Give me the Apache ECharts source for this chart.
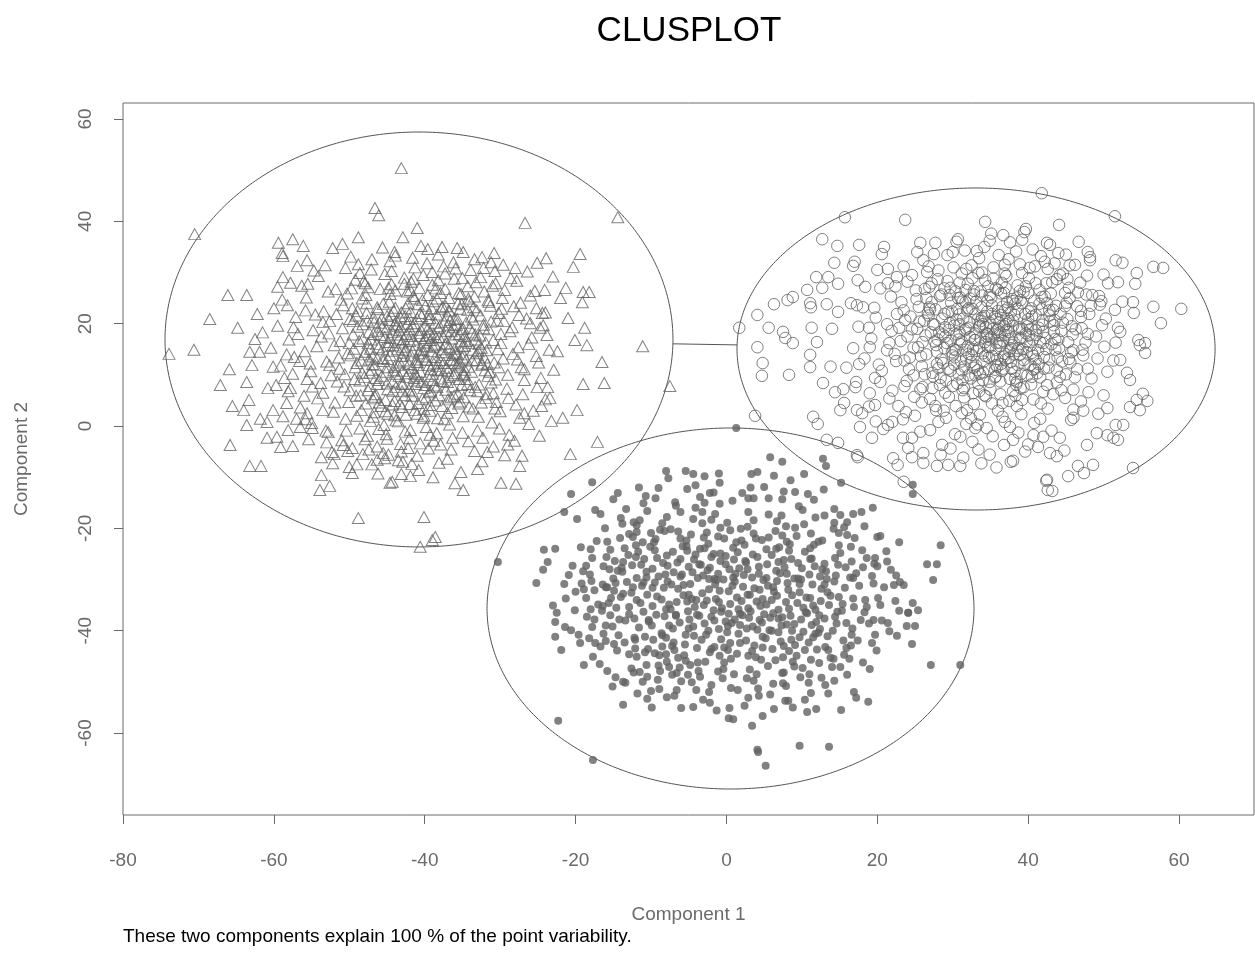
<!DOCTYPE html>
<html>
<head>
<meta charset="utf-8">
<title>CLUSPLOT</title>
<script src="https://cdn.jsdelivr.net/npm/echarts@6/dist/echarts.min.js"></script>
<style>
  html, body { margin: 0; padding: 0; background: #ffffff; }
  #chart { width: 1255px; height: 959px; }
</style>
</head>
<body>
<div id="chart"></div>
<script>
// Cluster 1 (open triangles)
const clusterTriangles = [
  [-43.1,50.4],[-70.5,37.5],[-14.4,40.8],[-26.7,39.7],[-73.9,14.1],[-70.6,14.9],[-65.8,-3.7],[-63.2,-7.8],[-61.7,-7.8],[-48.8,-18.0],
  [-40.6,-23.6],[-40.1,-17.8],[-39.0,-22.3],[-38.6,-21.7],[-11.1,15.6],[-7.5,7.8],[-17.1,-3.1],[-20.7,-5.5],[-27.4,-7.8],[-29.9,-11.1],
  [-27.9,-11.3],[-34.9,-12.5],[-16.2,8.4],[-19.0,8.2],[-18.5,15.8],[-20.1,16.8],[-16.5,12.5],[-23.7,7.6],[-23.4,5.5],[-21.7,1.6],
  [-19.8,3.1],[-29.4,-5.7],
  [-46.6,42.6],[-46.1,41.2],[-48.8,36.9],[-42.9,36.9],[-41.0,38.7],[-59.4,35.8],[-57.5,36.5],[-56.1,35.2],[-58.9,33.8],[-58.8,33.2],
  [-56.9,31.3],[-55.6,32.4],[-52.2,34.8],[-66.1,25.6],[-63.6,25.6],[-68.5,20.9],[-64.8,19.2],[-58.8,29.1],[-59.5,27.2],
  [-35.7,34.8],[-37.7,35.0],[-40.5,35.2],[-32.4,33.0],[-30.8,33.8],[-25.1,31.9],[-23.9,32.8],[-19.4,33.6],[-20.3,31.1],[-28.0,30.9],
  [-29.6,31.5],[-24.1,26.6],[-21.3,27.0],[-19.0,26.2],[-18.2,26.2],[-19.1,24.2],[-24.4,22.1],[-24.0,22.2],[-21.0,21.1],[-18.8,19.2],[-24.7,19.2],
  [-67.1,8.0],[-65.9,11.1],[-65.5,3.9],[-63.6,8.6],[-63.3,5.1],[-64.0,3.1],[-63.6,0.2],[-61.8,1.4],[-60.9,0.8],[-60.9,-2.3],
  [-59.6,-2.1],[-59.1,-4.1],[-57.5,-3.9],[-63.2,14.5],[-61.9,14.5],[-62.9,11.9],[-60.1,11.6],[-59.7,8.0],[-60.1,3.1],[-58.8,1.9],
  [-58.3,4.5],[-58.1,-0.8],[-56.5,-0.2],[-54.9,-0.4],[-55.6,2.5],[-53.5,3.1],[-53.7,-6.1],[-52.3,-5.1],[-52.2,-7.3],[-53.7,-9.6],
  [-52.6,-11.7],[-53.9,-12.5],[-49.6,-9.2],[-50.8,-3.7],[-48.2,-5.5],[-46.3,-6.6],[-45.3,-6.3],[-44.6,-11.1],[-44.3,-10.9],[-43.1,-9.4],
  [-41.7,-7.4],[-42.9,-7.0],
  [-53.2,31.4],[-49.8,33.1],[-47.1,30.6],[-44.6,32.2],[-41.3,31.0],[-38.2,33.5],[-35.9,30.8],[-33.4,32.6],[-30.7,30.3],[-44.0,34.0],
  [-50.5,30.9],[-39.7,31.8],
  [-56.3,27.4],[-54.1,29.3],[-51.8,26.8],[-49.2,28.6],[-47.5,27.1],[-45.3,29.7],[-43.9,26.5],[-41.8,28.2],[-40.2,29.5],[-38.5,26.9],
  [-36.1,28.8],[-34.3,27.3],[-32.6,29.1],[-29.4,26.6],[-27.8,28.4],[-48.6,29.9],[-42.7,27.8],[-37.3,29.8],
  [-58.2,23.6],[-55.7,25.1],[-53.4,22.4],[-51.1,24.7],[-49.6,23.0],[-47.8,25.6],[-46.2,22.8],[-44.7,24.3],[-43.1,22.2],[-41.5,25.4],
  [-39.9,23.5],[-38.4,24.9],[-36.8,22.6],[-35.2,25.8],[-33.5,23.2],[-31.6,24.6],[-29.8,22.9],[-27.3,24.1],[-25.2,23.0],[-50.3,25.9],
  [-45.5,23.9],[-42.2,24.0],[-37.6,23.3],[-34.1,24.4],[-40.6,22.1],[-48.9,22.5],
  [-59.5,19.6],[-57.1,21.3],[-54.8,18.7],[-52.6,20.5],[-50.9,19.1],[-49.1,21.6],[-47.4,18.4],[-46.0,20.2],[-44.5,21.8],[-43.2,19.3],
  [-42.0,20.9],[-40.7,18.2],[-39.3,21.1],[-38.0,19.5],[-36.6,20.7],[-35.1,18.9],[-33.8,21.4],[-32.2,19.8],[-30.4,20.6],[-28.7,18.5],
  [-26.5,21.0],[-24.3,19.7],[-51.7,21.9],[-48.2,19.9],[-45.1,18.9],[-41.4,20.1],[-37.2,18.6],[-34.5,20.2],[-44.0,19.9],[-39.6,19.0],
  [-42.6,21.5],[-46.8,21.2],
  [-60.4,15.3],[-58.0,16.9],[-55.9,14.6],[-53.7,17.5],[-52.0,15.8],[-50.2,14.2],[-48.7,16.6],[-47.2,15.1],[-45.9,17.8],[-44.3,14.7],
  [-43.0,16.3],[-41.9,17.6],[-40.5,15.0],[-39.2,16.8],[-37.8,14.4],[-36.4,17.1],[-35.0,15.6],[-33.3,16.9],[-31.8,14.8],[-29.9,16.2],
  [-27.6,15.4],[-25.8,17.3],[-23.5,14.9],[-49.5,17.9],[-46.4,16.0],[-42.8,14.3],[-40.0,17.2],[-38.6,15.8],[-35.7,14.1],[-32.7,17.7],
  [-44.8,16.4],[-41.2,15.9],[-37.1,16.2],[-43.6,17.9],[-47.9,14.5],
  [-59.1,11.8],[-57.3,13.5],[-55.1,10.7],[-53.0,12.6],[-51.3,11.2],[-49.8,13.8],[-48.3,10.4],[-46.9,12.1],[-45.5,13.3],[-44.1,10.9],
  [-42.8,12.8],[-41.6,11.4],[-40.3,13.6],[-39.0,10.2],[-37.5,12.3],[-36.2,13.9],[-34.7,11.0],[-33.1,12.9],[-31.4,10.6],[-29.6,13.2],
  [-27.2,11.5],[-24.9,12.4],[-50.6,10.1],[-47.4,13.0],[-43.5,11.9],[-41.0,12.5],[-38.3,11.7],[-35.4,12.6],[-32.4,11.9],[-45.0,11.5],
  [-42.2,10.3],[-39.7,12.9],[-36.9,10.8],[-44.6,13.9],
  [-57.8,7.4],[-55.6,9.2],[-53.5,6.5],[-51.6,8.7],[-49.9,7.0],[-48.0,9.6],[-46.5,6.2],[-45.0,8.3],[-43.4,9.8],[-42.1,7.1],
  [-40.8,8.9],[-39.4,6.6],[-37.9,9.3],[-36.3,7.7],[-34.8,9.9],[-33.0,6.8],[-31.2,8.5],[-29.1,7.3],[-26.8,9.0],[-52.4,9.9],
  [-47.3,7.8],[-44.2,6.9],[-41.4,9.4],[-38.7,7.9],[-35.6,6.3],[-42.9,8.2],[-39.9,8.0],[-46.1,9.0],
  [-56.5,3.6],[-54.2,5.4],[-52.1,2.8],[-50.1,4.7],[-48.4,3.1],[-46.6,5.7],[-44.9,2.4],[-43.3,4.4],[-41.7,5.9],[-40.1,3.3],
  [-38.6,5.0],[-37.0,2.6],[-35.3,4.8],[-33.6,3.4],[-31.9,5.5],[-30.0,2.9],[-27.9,4.2],[-25.6,3.0],[-49.1,5.9],[-45.8,3.9],
  [-42.5,2.2],[-39.3,4.1],[-36.5,5.6],[-44.0,4.9],[-40.9,4.5],
  [-55.0,0.6],[-52.8,-1.2],[-50.5,1.4],[-48.6,-0.5],[-46.8,1.8],[-45.1,-1.6],[-43.5,0.9],[-41.9,-0.8],[-40.2,1.6],[-38.4,-1.4],
  [-36.7,0.3],[-34.9,1.9],[-33.0,-0.9],[-31.1,0.7],[-28.8,-1.7],[-26.2,0.4],[-47.6,-1.9],[-43.8,1.1],[-39.8,-0.2],[-37.4,1.3],[-42.6,-1.1],
  [-53.0,-3.2],[-50.2,-4.9],[-47.9,-2.6],[-45.5,-5.3],[-43.2,-3.5],[-41.0,-5.8],[-38.8,-2.9],[-36.5,-4.6],[-34.2,-3.0],[-31.7,-5.1],
  [-29.0,-3.6],[-46.3,-4.0],[-42.0,-2.4],[-39.5,-4.4],[-44.8,-5.6],
  [-49.0,-7.5],[-46.2,-9.3],[-43.5,-6.7],[-40.8,-8.6],[-38.1,-7.2],[-35.2,-9.0],[-32.4,-6.9],[-41.9,-9.8],[-37.0,-6.4],
  [-46.1,15.4],[-44.9,13.1],[-43.7,20.6],[-42.4,18.0],[-41.1,13.0],[-40.4,21.5],[-39.1,14.6],[-38.1,17.4],[-37.4,20.3],[-36.0,15.1],
  [-35.3,11.6],[-34.0,19.2],[-33.1,14.2],[-45.6,19.4],[-44.2,8.7],[-42.9,15.5],[-41.7,6.8],[-40.6,10.6],[-39.3,18.3],[-38.8,12.2],
  [-37.0,8.6],[-36.7,22.4],[-35.9,17.9],[-34.4,9.2],[-33.6,20.8],[-47.0,11.0],[-46.3,23.2],[-45.2,5.1],[-43.9,23.1],[-42.0,4.3],
  [-40.9,23.8],[-39.8,5.6],[-38.9,24.4],[-37.7,3.9],[-36.2,9.9],[-35.0,13.4],[-48.2,17.1],[-47.6,20.6],[-44.6,17.2],[-43.0,13.7],
  [-41.5,16.9],[-40.0,19.6],[-38.4,21.8],[-37.1,11.4],[-35.8,19.8],[-34.7,15.7],[-32.8,8.1],[-31.9,16.3],[-30.8,12.4],[-30.2,22.1],
  [-49.0,12.3],[-48.5,6.0],[-47.7,24.0],[-46.7,2.7],[-42.3,26.3],[-39.0,27.6],[-35.5,26.0],[-32.1,26.3],[-44.4,27.7],[-30.5,4.7],
  [-52.7,18.1],[-51.4,13.4],[-50.8,23.6],[-49.3,9.2],[-48.9,19.4],[-47.8,4.4],[-47.1,16.9],[-46.6,11.9],[-45.9,26.8],[-45.4,0.2],
  [-44.7,20.7],[-44.2,15.8],[-43.8,7.6],[-43.3,12.4],[-42.7,29.0],[-42.4,9.6],[-41.9,22.3],[-41.3,3.1],[-40.8,14.2],[-40.5,18.8],
  [-40.1,7.4],[-39.6,25.6],[-39.2,11.1],[-38.7,16.1],[-38.3,1.5],[-37.8,22.9],[-37.4,13.9],[-36.9,5.2],[-36.5,18.5],[-36.0,10.3],
  [-35.6,24.0],[-35.1,8.0],[-34.6,16.6],[-34.1,3.8],[-33.7,12.8],[-33.2,28.1],[-32.6,21.6],[-32.0,10.9],[-31.5,18.9],[-30.9,6.4],
  [-30.3,15.0],[-29.7,25.0],[-29.0,10.0],[-28.4,19.3],[-27.7,13.0],[-27.0,6.2],[-26.2,16.0],[-25.4,26.4],[-24.6,9.4],[-23.8,17.8],
  [-53.8,8.4],[-54.5,21.8],[-55.2,12.2],[-56.0,5.9],[-56.8,18.0],[-57.5,10.2],[-58.3,14.0],[-55.5,27.8],[-53.1,-0.9],[-51.0,-2.8],
  [-49.7,26.9],[-48.8,31.6],[-47.4,-4.6],[-46.1,-0.6],[-44.4,30.3],[-43.1,-5.0],[-41.6,32.9],[-40.6,-3.4],[-39.0,30.1],[-37.9,-3.6],
  [-36.2,32.0],[-35.0,-1.3],[-33.9,30.5],[-32.3,-2.3],[-31.0,27.4],[-30.1,-0.5],[-28.2,23.4],[-27.4,1.6],[-26.0,20.1],[-25.1,7.6],
  [-46.9,13.6],[-45.7,9.8],[-45.0,21.5],[-44.0,11.6],[-43.4,18.7],[-42.6,6.0],[-42.0,16.6],[-41.4,24.9],[-40.9,11.9],[-40.3,5.3],
  [-39.7,15.6],[-39.4,21.9],[-38.9,9.0],[-38.2,19.1],[-37.6,15.0],[-37.2,7.1],[-36.8,25.0],[-36.3,12.9],[-35.7,20.9],[-35.2,16.5],
  [-34.8,5.6],[-34.3,22.7],[-33.8,10.6],[-33.3,17.9],[-32.9,14.6],[-32.5,4.6],[-31.7,12.1],[-31.2,20.4],[-30.6,9.1],[-29.9,18.0],
  [-48.0,14.0],[-47.5,7.0],[-46.8,18.0],[-46.3,8.2],[-45.6,15.0],[-45.2,2.9],[-44.6,25.8],[-43.6,15.0],[-43.0,3.7],[-42.5,23.0],
  [-41.8,13.8],[-41.2,8.2],[-40.7,27.0],[-40.2,16.3],[-39.6,9.8],[-39.1,23.0],[-38.6,13.5],[-38.1,6.0],[-37.5,17.4],[-37.0,21.6],
  [-36.4,3.5],[-35.9,14.3],[-35.4,9.2],[-34.9,19.0],[-34.5,13.0],[-34.0,7.0],[-33.4,25.3],[-32.8,16.0],[-32.1,13.4],[-31.3,23.5],
  [-50.0,16.2],[-49.5,20.5],[-49.0,2.0],[-48.4,12.8],[-47.9,27.9],[-47.3,10.4],[-46.7,20.3],[-46.0,4.6],[-45.3,17.4],[-44.9,7.2],
  [-44.3,18.4],[-43.9,10.2],[-43.2,21.2],[-42.8,17.0],[-42.1,12.1],[-41.6,19.5],[-41.0,21.0],[-40.4,8.6],[-39.9,13.0],[-39.3,3.0],
  [-38.8,18.0],[-38.3,10.9],[-37.9,26.0],[-37.3,16.0],[-36.8,9.6],[-36.2,19.4],[-35.7,12.0],[-35.3,22.9],[-34.7,17.6],[-34.2,11.6],
  [-60.8,7.4],[-61.5,18.3],[-62.2,21.9],[-58.9,24.7],[-57.0,1.4],[-55.4,-2.6],[-52.0,-5.5],[-50.0,-8.0],[-47.0,-7.5],[-38.9,-10.0],
  [-36.0,-11.2],[-33.0,-8.4],[-30.9,-4.0],[-28.1,-2.9],[-26.8,2.5],[-24.0,5.2],[-22.9,11.0],[-22.4,14.6],[-22.0,25.0],[-23.0,29.2],
  [-26.4,30.2],[-31.2,32.0],[-34.9,34.0],[-39.6,34.6],[-45.6,34.9],[-50.9,35.6],[-54.7,30.4],[-57.8,28.0],[-60.0,23.0],[-62.5,17.0],
  [-49.4,15.1],[-48.6,8.9],[-47.7,22.1],[-46.9,5.4],[-46.2,18.6],[-45.5,12.7],[-44.8,27.0],[-44.0,2.1],[-43.5,16.9],[-42.9,10.8],
  [-42.3,20.0],[-41.6,14.6],[-41.0,2.4],[-40.3,24.6],[-39.7,17.7],[-39.2,6.9],[-38.6,20.2],[-38.0,12.9],[-37.3,26.8],[-36.7,15.4],
  [-36.1,5.9],[-35.4,18.0],[-34.8,10.2],[-34.2,24.9],[-33.6,14.9],[-32.9,1.8],[-32.2,19.1],[-31.6,9.8],[-30.9,16.8],[-30.2,11.5],
  [-50.7,7.7],[-49.9,20.9],[-49.2,11.5],[-48.3,24.9],[-47.5,16.2],[-46.5,9.4],[-45.7,21.0],[-44.9,15.7],[-44.3,4.2],[-43.7,19.6],
  [-43.1,8.3],[-42.5,14.9],[-41.9,26.6],[-41.3,10.2],[-40.7,17.6],[-40.1,2.0],[-39.5,20.8],[-38.9,15.5],[-38.4,7.6],[-37.8,11.0],
  [-37.2,23.4],[-36.6,13.0],[-36.0,21.0],[-35.5,4.4],[-34.9,14.0],[-34.3,8.2],[-33.7,18.3],[-33.1,22.6],[-32.4,12.2],[-31.8,6.2],
  [-51.9,4.6],[-51.2,16.6],[-52.6,11.9],[-53.5,20.3],[-54.3,15.6],[-54.9,7.7],[-55.8,22.6],[-56.6,12.7],[-57.4,19.3],[-58.1,6.8],
  [-29.5,20.5],[-28.9,5.5],[-28.3,14.1],[-27.5,21.7],[-26.8,11.1],[-26.0,25.5],[-25.2,13.7],[-24.5,3.9],[-30.6,27.9],[-28.6,28.9],
  [-46.3,13.2],[-45.1,10.6],[-44.1,22.5],[-43.0,6.8],[-42.0,18.9],[-41.1,9.8],[-40.2,14.8],[-39.4,11.9],[-38.5,17.3],[-37.6,8.8],
  [-36.9,19.8],[-36.0,12.3],[-35.1,23.8],[-34.2,16.2],[-33.3,7.6],[-32.5,15.3],[-31.5,24.3],[-30.7,3.4],[-47.2,1.0],[-48.1,28.3],
  [-45.0,-2.5],[-42.2,-4.3],[-39.3,-1.7],[-36.3,-2.3],[-33.4,-4.9],[-50.4,-0.9],[-43.9,33.3],[-37.5,31.2],[-47.0,32.6],[-32.2,30.9],
  [-41.5,28.8],[-38.2,28.5],[-35.0,28.9],[-52.8,26.3],[-49.6,-4.3],[-55.8,1.3],[-58.6,9.4],[-27.1,-5.8],[-24.8,-1.9],[-23.2,1.0]
];

// Cluster 2 (open circles)
const clusterCircles = [
  [41.8,45.5],[23.7,40.3],[15.7,40.8],[51.5,41.0],[1.7,19.2],[3.8,2.0],[4.7,9.8],[17.4,-6.1],[53.9,-8.2],[42.5,-10.5],
  [42.6,-12.5],[60.3,22.9],[57.9,30.9],
  [12.7,36.5],[14.7,35.2],[17.6,35.4],[20.9,35.0],[20.6,33.6],[25.7,35.8],[27.7,35.8],[30.7,36.5],[31.6,34.3],[14.3,31.9],[17.0,32.1],
  [16.8,31.3],[11.9,29.1],[13.5,29.1],[14.8,27.8],[12.7,27.0],[10.7,26.6],[8.8,25.2],[8.1,24.6],[6.3,23.8],[4.1,21.7],
  [5.6,19.2],[7.5,18.4],[7.8,17.2],[8.8,16.2],[4.1,15.4],[11.3,19.2],[12.0,16.4],[11.1,24.0],[11.2,23.2],[13.3,23.8],
  [14.8,22.3],[17.4,28.5],[18.4,27.2],[17.3,23.6],[18.1,23.2],[20.0,30.5],[21.4,30.7],[22.6,29.1],[25.3,34.0],[26.1,32.4],
  [44.1,39.3],[34.3,39.9],[36.7,37.3],[39.7,38.5],[39.2,36.4],[42.5,35.8],[42.9,35.4],[46.7,36.0],[47.9,34.0],[48.2,33.0],
  [51.6,32.4],[52.5,31.9],[56.6,31.1],[54.4,29.9],[54.2,27.8],[46.2,31.5],[42.6,30.7],[44.2,29.5],[50.6,27.9],[51.9,28.1],
  [56.6,23.3],[57.6,20.1],[53.9,24.2],[54.0,22.1],[51.5,22.7],[49.5,23.7],[48.5,25.6],[46.9,28.0],[48.2,32.4],[49.8,19.7],
  [51.9,19.2],[52.2,18.4],[54.6,16.8],[55.5,16.2],
  [4.8,12.3],[8.3,10.0],[11.1,13.9],[11.1,11.5],[11.5,1.8],[12.1,0.4],[12.8,8.4],[14.4,6.6],[15.5,7.2],[15.1,3.1],
  [13.3,-2.7],[14.8,-3.3],[17.3,-5.7],[17.7,-0.2],[19.3,-2.3],[17.3,3.1],[18.0,2.5],[17.2,8.6],[19.7,4.1],[21.4,0.2],
  [22.0,0.8],[22.1,-6.3],[22.7,-7.6],[23.5,-10.9],[23.4,-2.3],[24.6,-2.3],[24.6,-6.1],[26.1,-7.2],[27.9,-7.8],[29.4,-7.6],
  [31.0,-7.8],[25.0,2.0],[27.0,-0.8],[28.6,-3.7],[26.1,-5.3],[31.0,-2.1],
  [45.3,-9.8],[46.6,-7.8],[48.6,-7.6],[42.4,-10.7],[43.2,-12.7],[47.4,-9.2],[38.0,-6.8],[41.3,-4.1],[42.9,-5.3],[43.8,-5.9],
  [44.2,-2.3],[47.8,-3.7],[49.1,-1.4],[50.5,-1.8],[51.3,-2.3],[51.9,-2.7],[51.6,0.2],[52.6,0.2],[53.5,3.7],[54.8,3.1],
  [55.2,6.3],[55.8,4.9],[54.4,5.1],[50.5,3.5],[53.1,10.4],[53.5,9.0],[55.5,14.3],[54.8,15.8],[52.2,12.9],[46.0,1.6],
  [38.0,-2.7],[42.0,-2.1],
  [26.8,31.2],[29.3,33.4],[31.8,30.7],[33.5,32.8],[35.1,37.6],[36.9,31.5],[38.4,34.1],[40.2,30.9],[41.7,33.2],[43.5,31.8],
  [37.6,35.9],[34.2,35.0],[30.5,36.0],[28.1,30.4],[45.0,33.5],[39.5,37.9],
  [22.4,27.3],[24.6,29.5],[26.3,26.8],[28.0,28.7],[29.7,27.0],[31.2,29.8],[32.8,26.4],[34.3,28.5],[35.7,26.9],[37.1,29.3],
  [38.6,27.5],[40.1,28.9],[41.5,26.6],[43.2,28.1],[45.4,27.0],[47.8,29.4],[33.4,29.9],[36.5,28.0],[39.4,26.2],[30.4,26.3],[44.6,29.8],
  [19.6,23.1],[21.8,25.3],[23.5,22.6],[25.2,24.8],[26.9,23.2],[28.5,25.7],[29.9,22.4],[31.3,24.3],[32.6,22.9],[33.9,25.5],
  [35.2,23.6],[36.4,25.9],[37.7,22.2],[39.0,24.6],[40.4,23.0],[41.8,25.2],[43.3,22.7],[45.1,24.1],[47.0,22.5],[49.4,25.4],
  [34.6,24.4],[38.3,23.9],[30.7,25.0],[42.5,24.0],[27.7,22.8],[36.0,22.5],
  [17.5,19.4],[19.8,21.2],[21.9,18.6],[23.7,20.7],[25.3,19.0],[26.8,21.6],[28.2,18.3],[29.6,20.1],[30.9,21.8],[32.1,19.2],
  [33.3,20.8],[34.5,18.1],[35.6,21.3],[36.8,19.5],[38.0,20.6],[39.2,18.9],[40.5,21.4],[41.9,19.8],[43.4,18.4],[45.2,20.9],
  [47.1,19.1],[50.3,21.0],[31.6,18.7],[34.0,19.9],[36.2,20.2],[37.4,18.4],[39.8,20.0],[33.0,21.9],[28.9,21.9],[42.8,21.6],
  [16.8,15.2],[19.2,17.1],[21.3,14.8],[23.1,16.6],[24.8,15.3],[26.4,17.7],[27.9,14.5],[29.2,16.2],[30.5,17.9],[31.7,14.9],
  [32.9,16.8],[34.0,14.2],[35.1,17.3],[36.3,15.6],[37.4,17.0],[38.6,14.7],[39.8,16.5],[41.1,17.8],[42.4,15.0],[44.0,16.9],
  [45.7,14.4],[47.6,16.3],[50.1,15.5],[33.5,15.3],[35.8,16.2],[37.9,15.8],[30.1,15.0],[40.5,14.3],[34.6,17.9],[32.3,17.4],[36.9,14.1],
  [15.9,11.4],[18.3,13.2],[20.6,10.8],[22.5,12.7],[24.2,11.1],[25.8,13.6],[27.3,10.4],[28.7,12.3],[30.0,13.8],[31.2,10.9],
  [32.4,12.5],[33.6,10.2],[34.8,13.4],[35.9,11.6],[37.0,13.0],[38.2,10.6],[39.4,12.9],[40.7,11.0],[42.1,13.5],[43.8,10.9],
  [45.6,12.4],[47.9,11.2],[33.1,11.8],[36.4,12.1],[29.4,11.2],[38.9,13.9],[31.8,13.2],[41.4,12.1],
  [17.1,7.6],[19.7,9.4],[22.0,6.9],[23.9,8.8],[25.7,7.2],[27.4,9.7],[29.0,6.5],[30.6,8.3],[32.1,9.9],[33.5,6.8],
  [34.9,8.6],[36.3,6.2],[37.6,9.2],[39.0,7.4],[40.5,9.6],[42.0,6.7],[43.8,8.5],[46.0,7.1],[48.4,9.3],[31.3,7.0],
  [35.6,9.5],[38.4,8.1],[28.3,8.0],
  [18.9,3.8],[21.6,5.4],[23.8,2.7],[25.9,4.6],[27.8,3.1],[29.5,5.7],[31.2,2.5],[32.8,4.3],[34.4,5.8],[36.0,3.0],
  [37.5,4.9],[39.1,2.3],[40.7,5.2],[42.6,3.4],[44.9,5.5],[47.3,3.0],[33.6,2.2],[30.4,3.9],[38.3,5.9],[35.2,4.4],
  [20.8,-0.6],[23.4,1.3],[25.7,-1.1],[28.1,0.8],[30.3,-1.6],[32.4,1.5],[34.5,-0.4],[36.6,1.8],[38.7,-1.3],[40.8,0.6],
  [43.1,-0.9],[45.7,1.2],[33.3,0.3],[37.6,-0.2],
  [29.7,-4.4],[32.6,-3.1],[34.9,-5.6],[36.8,-3.7],[39.6,-5.0],[33.8,-7.3],[35.8,-8.1],[31.4,-6.2],
  [30.2,19.6],[31.9,22.6],[33.7,17.1],[35.3,19.0],[36.6,23.3],[38.1,16.3],[39.6,21.9],[41.0,18.7],[32.5,13.9],[34.2,21.5],
  [35.9,13.1],[37.3,21.0],[38.8,19.3],[40.3,15.7],[29.0,17.5],[27.6,19.8],[31.0,16.0],[33.1,24.3],[35.0,15.5],[36.9,17.8],
  [38.5,25.1],[40.0,26.0],[42.9,20.4],[44.4,18.6],[28.5,13.0],[30.8,10.1],[34.0,9.0],[37.8,11.2],[41.6,9.5],[26.0,16.4],
  [24.4,21.4],[34.7,27.3],[37.0,27.0],[32.0,27.8],[35.4,31.0],[38.9,31.6],[27.2,24.2],[43.9,13.4],[45.9,17.9],[46.5,23.4],
  [27.1,18.3],[27.9,12.1],[28.6,21.0],[29.1,8.9],[29.8,24.1],[30.3,13.4],[30.9,19.9],[31.5,5.6],[32.0,15.6],[32.6,28.9],
  [33.0,9.9],[33.6,19.6],[34.1,12.6],[34.6,22.4],[35.0,7.1],[35.5,17.9],[36.0,26.6],[36.5,10.8],[37.0,19.9],[37.5,14.6],
  [38.0,24.4],[38.5,8.6],[39.0,17.3],[39.5,12.0],[40.1,22.4],[40.6,16.9],[41.2,10.3],[41.8,22.8],[42.3,17.2],[43.0,25.9],
  [43.6,14.9],[44.3,21.9],[45.0,10.1],[45.8,19.5],[46.6,26.1],[47.3,13.8],[48.1,21.9],[49.0,17.5],[26.5,14.0],[25.6,20.4],
  [24.8,9.9],[24.0,17.5],[23.2,24.2],[22.3,14.1],[21.3,19.9],[20.2,12.0],[19.0,15.4],[30.1,31.0],[33.2,34.2],[36.1,33.4],
  [39.2,29.9],[42.2,32.1],[28.8,3.0],[31.8,0.4],[35.3,-2.0],[38.5,3.9],[41.6,1.4],[44.4,7.0],[47.0,4.8],[49.2,13.2],
  [27.6,16.5],[28.3,25.4],[29.5,18.8],[30.0,7.8],[30.6,22.9],[31.1,12.6],[31.7,26.6],[32.2,20.3],[32.7,6.4],[33.2,14.7],
  [33.8,23.2],[34.3,16.4],[34.8,11.1],[35.4,28.8],[35.8,20.9],[36.3,8.7],[36.7,16.6],[37.2,24.2],[37.7,12.5],[38.2,21.7],
  [38.7,15.2],[39.2,5.1],[39.7,18.1],[40.3,11.9],[40.8,24.5],[41.3,14.8],[41.9,20.6],[42.5,8.0],[43.1,16.0],[43.7,23.5],
  [44.5,12.6],[45.3,16.4],[46.2,9.5],[47.0,21.3],[24.3,13.4],[25.1,26.5],[25.9,11.7],[26.7,22.1],[27.3,7.4],[28.0,16.9],
  [29.9,14.4],[31.4,21.0],[32.9,18.1],[34.4,19.3],[35.7,14.9],[37.1,18.7],[38.6,22.9],[40.0,20.9],[36.2,17.7],[34.9,25.6],
  [33.4,8.3],[31.7,24.2],[38.0,6.8],[41.0,27.9],[29.3,28.3],[27.0,5.3],[45.5,25.0],[48.0,6.6],[50.5,10.6],[51.6,16.3],
  [52.5,24.3],[50.0,29.6],[45.5,31.4],[40.6,34.5],[34.9,36.2],[27.5,33.6],[23.5,31.2],[20.4,26.9],[16.5,24.0],[14.0,19.0],
  [13.8,11.6],[15.6,4.5],[19.8,0.9],[24.1,-4.3],[28.4,-5.6],[33.4,-4.6],[37.7,-7.0],[40.7,-1.8],[44.8,-4.8],[49.3,2.4],
  [26.2,20.6],[27.2,27.9],[28.9,15.2],[29.7,10.8],[30.8,16.9],[31.3,9.0],[32.3,24.9],[32.8,11.4],[33.7,20.5],[34.2,6.0],
  [34.7,15.4],[35.2,21.9],[35.7,11.9],[36.1,19.0],[36.8,13.6],[37.3,23.1],[37.8,17.1],[38.3,9.3],[38.9,26.4],[39.3,15.0],
  [39.9,9.9],[40.4,19.0],[41.0,13.0],[41.5,23.9],[42.0,16.2],[42.7,11.4],[43.4,19.7],[44.1,15.2],[44.9,23.4],[46.0,14.8],
  [22.9,19.2],[23.6,7.8],[25.4,15.4],[26.0,7.6],[36.6,4.5],[31.9,3.1],[41.7,4.4],[46.5,11.1],[47.7,25.7],[43.8,28.7],
  [26.3,10.1],[27.0,22.8],[27.8,15.8],[28.4,9.4],[29.0,19.3],[29.6,25.6],[30.2,12.0],[30.9,18.3],[31.5,7.4],[32.1,23.0],
  [32.7,15.0],[33.3,10.9],[33.9,21.2],[34.5,17.5],[35.1,25.1],[35.7,9.7],[36.3,18.3],[36.9,22.6],[37.4,13.3],[38.0,19.6],
  [38.6,11.9],[39.2,24.0],[39.8,14.4],[40.4,8.1],[41.0,21.7],[41.6,16.4],[42.2,25.3],[42.8,13.0],[43.5,20.7],[44.2,9.6],
  [26.9,27.2],[27.7,3.9],[28.7,17.9],[29.4,22.3],[30.4,14.8],[31.0,25.1],[31.8,19.0],[32.4,9.3],[33.0,16.8],[33.7,26.3],
  [34.3,13.7],[34.9,20.2],[35.6,11.0],[36.2,16.3],[36.8,26.0],[37.5,20.5],[38.1,14.0],[38.8,18.9],[39.4,7.6],[40.1,17.7],
  [40.7,13.7],[41.4,19.2],[42.1,11.2],[42.8,22.6],[43.6,17.0],[44.6,20.2],[45.4,13.1],[46.3,18.9],[47.2,14.9],[48.3,23.5],
  [21.6,16.2],[22.6,21.9],[23.6,12.8],[24.6,18.9],[25.5,23.3],[20.4,8.6],[18.9,19.2],[17.6,12.1],[24.9,5.7],[22.8,3.9],
  [30.0,34.0],[32.5,31.4],[37.4,32.6],[40.9,31.2],[44.0,33.8],[26.6,30.1],[29.1,1.6],[33.0,-0.4],[36.9,0.8],[40.0,-3.6],
  [31.2,16.5],[32.1,14.1],[33.5,19.4],[34.8,16.9],[35.9,18.8],[36.7,11.2],[37.7,15.2],[38.9,17.0],[39.9,19.5],[40.9,11.2],
  [29.7,16.7],[30.5,20.8],[31.5,11.6],[32.8,25.7],[34.0,10.5],[35.2,13.7],[36.4,21.7],[37.9,24.8],[39.1,10.2],[42.0,18.4],
  [43.3,6.2],[45.2,28.7],[47.9,18.0],[49.7,24.4],[51.3,12.8],[50.0,6.0],[46.0,3.2],[24.0,28.2],[21.4,27.9],[19.0,6.4],
  [28.1,11.3],[27.4,19.9],[26.5,25.0],[28.9,26.9],[30.9,28.0],[33.9,30.0],[36.9,29.8],[39.7,27.3],[42.4,27.9],[44.9,26.0]
];

// Cluster 3 (filled dots)
const clusterDots = [
  [1.3,-0.4],[-30.3,-26.6],[-20.6,-13.3],[-22.5,-36.5],[-22.3,-57.6],[-17.7,-65.3],[5.2,-66.4],[4.1,-63.3],[9.7,-62.5],[27.1,-46.7],
  [24.7,-11.5],[28.4,-23.3],
  [-17.8,-11.0],[-21.5,-16.8],[-19.8,-18.2],[-17.4,-16.4],[-15.0,-14.3],[-14.4,-13.1],[-13.3,-16.2],[-13.8,-19.1],[-10.7,-13.7],
  [-9.4,-14.1],[-8.0,-8.8],[-7.7,-10.2],[-5.4,-8.8],[-4.4,-9.4],[-5.2,-12.3],[-0.9,-11.1],[-2.2,-13.1],[-3.5,-13.9],[-2.9,-15.0],
  [-0.9,-15.2],[-6.7,-15.6],[-6.1,-16.8],[-4.4,-18.2],[-3.2,-16.8],[-24.2,-24.2],[-22.7,-24.0],[-23.7,-26.6],[-24.3,-28.1],[-25.2,-30.7],
  [-17.2,-22.5],[-15.4,-24.2],[-17.8,-25.8],[-18.9,-31.9],[-17.5,-32.1],[-15.8,-31.5],[-14.7,-30.7],[-18.0,-35.8],[-16.5,-36.1],[-15.6,-34.6],
  [-13.9,-27.7],[-13.7,-26.6],[-12.5,-27.2],[-13.7,-32.8],[-12.4,-31.5],[-12.3,-18.8],[-11.5,-18.4],[-12.4,-21.7],[-11.9,-20.7],[-11.1,-22.7],
  [-12.0,-25.6],[-10.0,-20.9],[-8.8,-20.3],
  [5.8,-6.1],[7.4,-7.0],[12.8,-6.4],[13.2,-7.8],[3.3,-9.4],[15.2,-11.1],[24.7,-13.3],[19.4,-16.0],[14.3,-16.2],[15.1,-17.4],
  [16.8,-17.2],[16.0,-18.8],[15.6,-19.8],[14.9,-20.9],[16.0,-21.3],[20.0,-21.7],[20.4,-21.5],[22.9,-22.7],[26.6,-27.0],[27.9,-27.0],
  [27.4,-30.1],[21.8,-28.1],[22.2,-31.1],[23.5,-31.1],[22.4,-34.2],[24.7,-34.6],[25.4,-36.0],[24.1,-36.5],[18.6,-25.8],[19.7,-25.8],
  [18.1,-27.6],[19.3,-29.3],[20.0,-27.4],[16.8,-29.7],[20.4,-35.0],[18.6,-35.4],[9.1,-12.9],[10.8,-13.3],[5.6,-14.1],[7.4,-14.3],
  [2.1,-13.1],[3.6,-14.1],
  [-22.7,-38.3],[-21.4,-39.3],[-22.7,-41.2],[-19.4,-42.4],[-17.7,-45.1],[-17.8,-39.3],[-16.0,-39.0],[-16.0,-42.0],[-14.9,-42.6],[-13.7,-50.0],
  [-13.4,-50.2],[-13.7,-54.5],[-11.1,-50.0],[-10.5,-53.3],[-10.0,-51.8],[-8.9,-51.4],[-7.9,-53.0],[-6.6,-51.6],[-6.0,-55.1],[-4.4,-54.9],
  [-3.1,-53.5],[-2.2,-54.1],[0.3,-57.1],[-12.1,-41.8],[-11.9,-45.1],[-11.5,-48.1],[-10.5,-49.0],[-9.5,-44.4],[-7.6,-47.1],[-6.6,-48.3],
  [-5.6,-44.8],[-4.8,-46.7],[-3.5,-49.0],
  [31.0,-46.7],[4.2,-63.7],[13.6,-62.7],[3.4,-58.6],[0.9,-57.3],[0.4,-55.1],[4.8,-56.7],[10.7,-55.9],[11.9,-55.3],[15.2,-55.5],
  [7.8,-53.7],[8.2,-53.7],[11.2,-52.2],[16.9,-52.0],[17.2,-53.1],[18.8,-53.9],[13.1,-50.6],[14.3,-49.8],[19.0,-47.5],[15.1,-47.1],
  [24.6,-42.6],[22.6,-41.0],[23.9,-39.1],[25.0,-39.1],[19.3,-42.4],[19.7,-40.8],[15.9,-43.4],[13.1,-43.2],[4.3,-52.7],[2.9,-53.1],
  [7.5,-50.3],[9.8,-49.1],[7.4,-48.3],[14.0,-47.1],[21.4,-38.5],[24.1,-36.5],
  [-9.0,-12.1],[-6.8,-14.9],[-4.1,-11.6],[-1.5,-17.2],[0.8,-14.6],[2.9,-16.8],[5.0,-11.9],[7.3,-17.5],[9.6,-15.7],[11.8,-17.9],
  [12.9,-12.4],[-10.5,-16.6],[-7.9,-17.8],[4.1,-9.0],[-2.9,-9.8],[8.5,-10.6],
  [-14.1,-21.9],[-11.9,-19.4],[-9.6,-22.7],[-7.4,-20.2],[-5.3,-23.5],[-3.2,-19.0],[-1.1,-21.6],[0.9,-23.8],[2.8,-19.7],[4.7,-22.3],
  [6.5,-20.5],[8.4,-23.1],[10.3,-19.2],[12.2,-22.6],[14.2,-20.1],[16.5,-23.6],[18.3,-19.6],[-8.5,-19.0],[-2.4,-23.0],[3.6,-21.0],
  [9.3,-21.5],[-6.1,-22.0],[11.1,-23.9],[0.1,-18.9],
  [-20.4,-27.3],[-18.1,-29.0],[-15.9,-25.6],[-13.8,-28.5],[-11.7,-24.6],[-9.8,-27.9],[-7.9,-25.3],[-6.1,-29.4],[-4.3,-26.1],[-2.5,-28.2],
  [-0.8,-24.9],[0.9,-29.6],[2.6,-26.7],[4.3,-28.9],[6.0,-25.2],[7.7,-27.6],[9.5,-29.8],[11.3,-25.9],[13.2,-28.4],[15.1,-24.8],
  [17.2,-28.8],[19.6,-26.9],[22.5,-29.2],[-5.2,-24.4],[1.7,-27.8],[8.6,-26.0],[-10.6,-29.6],[-1.6,-29.9],[5.3,-24.1],[12.4,-29.4],
  [-15.0,-29.8],[-3.4,-27.1],
  [-21.3,-33.7],[-19.2,-30.8],[-17.0,-34.9],[-14.9,-32.2],[-12.9,-35.4],[-11.0,-30.6],[-9.2,-33.3],[-7.4,-35.8],[-5.7,-31.1],[-4.0,-34.0],
  [-2.3,-31.9],[-0.6,-35.6],[1.1,-30.4],[2.8,-33.0],[4.5,-35.2],[6.2,-31.5],[7.9,-34.4],[9.7,-30.9],[11.5,-35.1],[13.4,-32.5],
  [15.4,-34.8],[17.6,-31.2],[20.1,-33.6],[23.0,-30.5],[-8.3,-31.6],[-1.4,-33.8],[3.7,-31.7],[10.6,-33.5],[-11.9,-34.0],[0.3,-32.3],
  [6.9,-35.9],[14.3,-30.4],[-5.0,-33.0],[-16.0,-31.5],
  [-20.6,-39.9],[-18.5,-37.3],[-16.3,-40.6],[-14.2,-37.8],[-12.2,-41.4],[-10.3,-38.2],[-8.5,-40.9],[-6.7,-37.1],[-5.0,-39.6],[-3.3,-41.8],
  [-1.6,-38.0],[0.1,-40.3],[1.8,-36.7],[3.5,-39.2],[5.2,-41.5],[6.9,-37.6],[8.7,-40.0],[10.5,-36.4],[12.4,-39.7],[14.4,-37.3],
  [16.6,-40.8],[18.9,-38.6],[21.6,-40.1],[-7.6,-39.0],[-0.7,-36.3],[4.4,-37.9],[11.5,-41.3],[-12.9,-36.8],[2.6,-41.9],[8.0,-38.8],[-3.9,-36.9],
  [-16.8,-46.5],[-14.5,-43.9],[-12.6,-47.4],[-10.8,-44.2],[-9.0,-46.8],[-7.2,-43.0],[-5.4,-45.9],[-3.7,-47.9],[-2.0,-43.6],[-0.3,-46.2],
  [1.4,-44.5],[3.1,-47.6],[4.8,-43.3],[6.5,-45.8],[8.3,-44.0],[10.1,-47.3],[12.0,-43.7],[14.2,-45.5],[16.5,-42.9],[18.1,-46.2],
  [-6.2,-47.2],[0.5,-42.4],[5.5,-46.9],[-1.1,-48.0],[9.1,-42.8],
  [-9.1,-49.6],[-6.9,-52.7],[-4.6,-50.1],[-2.3,-52.0],[-0.5,-49.3],[1.5,-51.6],[3.6,-49.8],[5.8,-52.5],[7.9,-50.8],[10.4,-53.5],
  [12.6,-49.2],[-1.3,-55.6],[2.4,-54.7],[6.3,-55.3],
  [-3.8,-29.7],[-2.0,-25.6],[-0.1,-27.0],[1.4,-33.5],[3.0,-37.5],[4.9,-30.1],[6.6,-28.3],[8.2,-32.0],[-4.9,-37.8],[-6.5,-26.7],
  [-8.1,-29.0],[-9.8,-35.2],[-10.9,-26.0],[-11.6,-39.4],[-7.0,-42.3],[-2.7,-40.8],[0.7,-38.5],[2.3,-29.1],[5.7,-39.9],[7.2,-42.1],
  [9.9,-37.8],[11.7,-27.4],[13.0,-37.6],[14.8,-27.1],[15.9,-38.5],[-13.5,-23.9],[-4.7,-21.2],[2.0,-22.4],[7.0,-23.7],[-14.6,-35.5],
  [-15.5,-28.0],[16.8,-33.7],[18.3,-36.4],[-0.9,-44.9],[3.9,-45.2],[-8.0,-44.6],[11.2,-45.7],[-18.6,-33.6],[20.9,-31.5],[19.9,-43.9],
  [-8.6,-33.9],[-7.8,-27.3],[-7.1,-39.6],[-6.4,-31.8],[-5.8,-23.5],[-5.1,-36.2],[-4.5,-28.6],[-3.9,-43.4],[-3.2,-32.7],[-2.6,-20.8],
  [-2.0,-37.3],[-1.3,-30.1],[-0.7,-41.7],[-0.1,-25.4],[0.5,-34.8],[1.2,-28.9],[1.8,-38.9],[2.4,-23.2],[3.1,-33.0],[3.7,-42.9],
  [4.3,-27.5],[5.0,-36.8],[5.6,-21.8],[6.3,-32.4],[6.9,-40.3],[7.6,-26.2],[8.3,-35.7],[9.0,-29.8],[9.7,-41.3],[10.4,-24.6],
  [11.1,-33.6],[11.9,-38.3],[12.7,-22.4],[13.6,-35.0],[14.5,-29.2],[15.5,-41.9],[16.6,-26.5],[17.8,-37.9],[-9.5,-24.3],[-10.3,-37.9],
  [-11.2,-31.2],[-12.1,-43.5],[-13.0,-25.2],[-14.0,-33.4],[-15.1,-39.2],[-16.3,-27.4],[-17.5,-37.8],[-19.0,-28.4],[-20.1,-36.0],[-19.3,-23.7],
  [-8.9,-44.8],[-6.0,-49.9],[-2.8,-46.1],[0.6,-51.2],[4.0,-48.5],[7.5,-45.2],[10.9,-50.2],[13.4,-41.1],[-12.9,-44.6],[-15.8,-47.9],
  [-4.1,-16.0],[-0.8,-19.9],[2.9,-14.1],[6.7,-18.6],[10.1,-16.4],[-8.2,-20.5],[-11.0,-15.1],[13.0,-17.5],[17.0,-21.9],[21.2,-24.5],
  [-7.3,-31.0],[-6.7,-36.9],[-6.1,-26.0],[-5.4,-40.8],[-4.8,-30.9],[-4.2,-35.4],[-3.5,-24.0],[-2.9,-38.6],[-2.2,-27.7],[-1.6,-43.2],
  [-0.9,-32.2],[-0.3,-22.0],[0.3,-36.7],[1.0,-26.1],[1.6,-40.6],[2.2,-31.4],[2.9,-35.6],[3.5,-25.1],[4.1,-39.8],[4.8,-33.8],
  [5.4,-27.0],[6.1,-43.6],[6.7,-30.3],[7.4,-37.4],[8.0,-22.6],[8.7,-33.1],[9.3,-44.9],[10.0,-27.8],[10.7,-36.6],[11.4,-31.0],
  [12.2,-40.4],[13.0,-26.9],[13.8,-33.2],[14.6,-38.6],[15.7,-31.6],[16.9,-35.4],[-8.2,-37.2],[-9.0,-29.4],[-9.7,-41.8],[-10.5,-33.0],
  [-11.3,-27.1],[-12.2,-37.6],[-13.2,-30.5],[-14.3,-40.9],[-15.3,-33.6],[-16.7,-43.1],[-17.9,-30.3],[-19.6,-40.8],[-21.5,-30.9],[-23.0,-35.1],
  [-6.4,-20.6],[-2.0,-18.3],[1.9,-20.1],[5.6,-17.3],[9.1,-19.9],[-12.9,-21.1],[-15.8,-22.6],[14.9,-23.3],[19.5,-30.8],[22.9,-36.1],
  [-7.9,-46.1],[-4.0,-51.6],[-0.4,-47.5],[2.7,-49.3],[6.2,-50.4],[9.0,-47.0],[12.3,-46.3],[16.0,-48.6],[-10.6,-46.7],[-14.7,-49.1],
  [-9.8,-31.6],[-8.4,-26.8],[-7.6,-34.9],[-6.9,-43.8],[-5.9,-29.0],[-5.2,-34.3],[-4.4,-39.2],[-3.6,-27.0],[-3.0,-35.0],[-2.3,-29.9],
  [-1.7,-36.0],[-1.0,-39.7],[-0.4,-30.0],[0.2,-43.8],[0.8,-31.2],[1.5,-24.7],[2.1,-37.0],[2.8,-28.0],[3.4,-44.0],[4.0,-34.3],
  [4.7,-38.4],[5.3,-29.7],[6.0,-34.0],[6.6,-24.0],[7.3,-39.0],[8.0,-28.9],[8.6,-41.8],[9.4,-34.6],[10.2,-40.2],[11.0,-29.0],
  [11.8,-35.9],[12.6,-31.8],[13.5,-43.8],[14.4,-25.8],[15.3,-36.1],[-8.6,-40.5],[-9.4,-22.1],[-10.8,-41.2],[-11.9,-29.7],[-13.4,-38.0],
  [-14.8,-26.4],[-16.4,-35.2],[-18.2,-41.5],[-20.0,-32.4],[3.2,-12.0],[-1.7,-13.0],[7.6,-12.8],[11.6,-14.4],[-11.6,-12.0],[17.9,-16.8],
  [-11.4,-34.6],[-10.6,-28.5],[-9.9,-39.0],[-9.2,-25.8],[-8.5,-43.1],[-7.8,-30.4],[-7.1,-24.6],[-6.4,-45.3],[-5.7,-33.1],[-5.0,-27.5],
  [-4.3,-41.0],[-3.6,-37.1],[-2.9,-23.9],[-2.2,-44.2],[-1.5,-31.0],[-0.8,-26.4],[-0.1,-38.2],[0.6,-45.5],[1.3,-22.7],[2.0,-34.2],
  [2.7,-39.6],[3.4,-29.6],[4.1,-25.6],[4.8,-41.2],[5.5,-31.2],[6.2,-36.6],[6.9,-26.6],[7.6,-43.0],[8.3,-24.4],[9.0,-38.7],
  [9.7,-32.5],[10.4,-43.8],[11.1,-26.0],[11.8,-40.6],[12.5,-34.2],[13.3,-29.9],[14.1,-40.0],[14.9,-33.4],[15.8,-27.6],[16.7,-39.6],
  [-12.6,-32.6],[-13.5,-42.3],[-14.4,-28.3],[-15.4,-37.0],[-16.4,-31.0],[-17.4,-42.4],[-18.6,-27.3],[-12.0,-23.3],[-8.8,-47.9],[-5.1,-48.6],
  [-11.0,-36.3],[-10.1,-23.6],[-9.3,-36.9],[-8.0,-41.4],[-7.0,-28.6],[-6.2,-38.4],[-5.3,-22.4],[-4.6,-33.8],[-3.8,-46.2],[-3.1,-29.2],
  [-2.4,-40.0],[-1.7,-25.0],[-1.0,-34.4],[-0.3,-43.3],[0.4,-28.0],[1.1,-37.8],[1.8,-42.4],[2.5,-26.4],[3.2,-36.2],[3.9,-22.0],
  [4.6,-45.7],[5.3,-34.9],[6.0,-40.0],[6.7,-33.2],[7.4,-21.4],[8.1,-30.7],[8.8,-46.1],[9.5,-26.8],[10.2,-35.5],[10.9,-42.3],
  [11.6,-23.2],[12.3,-37.0],[13.0,-31.0],[13.8,-45.3],[14.7,-36.3],[15.6,-44.7],[16.4,-29.6],[17.4,-41.9],[18.4,-34.0],[19.5,-37.9],
  [-6.6,-34.4],[-5.5,-42.7],[-4.1,-25.1],[-2.6,-34.1],[-1.1,-28.9],[0.2,-39.1],[1.6,-35.8],[2.9,-44.9],[4.4,-32.0],[5.8,-37.5],
  [7.1,-28.8],[8.5,-37.1],[9.9,-30.0],[11.3,-38.9],[12.7,-28.0],[-9.5,-30.6],[-8.0,-35.8],[-7.2,-48.6],[-10.4,-43.6],[-12.3,-48.2],
  [-2.0,-50.6],[1.0,-48.5],[4.2,-51.3],[7.6,-48.2],[11.0,-48.5],[-3.0,-21.8],[0.5,-20.4],[3.6,-18.4],[7.9,-19.6],[11.2,-21.0],
  [-14.0,-18.0],[-16.1,-20.0],[-18.0,-24.1],[-20.9,-29.1],[-21.9,-43.8],[-18.9,-46.7],[14.3,-18.9],[18.0,-24.3],[21.3,-26.5],[20.6,-38.0],
  [16.3,-45.5],[13.5,-52.3],[8.8,-55.0],[-9.9,-55.0],[-11.8,-52.3],[-15.1,-50.9],[-16.7,-17.2],[-1.0,-9.3],[6.3,-9.7],[10.3,-9.4]
];

// Cluster ellipses: centre and semi-axes in component units
const ellipseCenters = [[-40.76, 16.91], [33.09, 15.05], [0.54, -35.67]];
const ellipseRadii = [[33.67, 40.55], [31.69, 31.47], [32.28, 35.28]];
// Pairs of clusters whose ellipses do not overlap get a connecting segment
const linkedPairs = [[0, 1]];

// Tick labels
const xTicks = [-80, -60, -40, -20, 0, 20, 40, 60];
const yTicks = [-60, -40, -20, 0, 20, 40, 60];

const INK = '#636363';
const AXIS = '#6a6a6a';
const FONT = '"Liberation Sans", Arial, Helvetica, sans-serif';

// Boundary point of ellipse i in the direction of the centre of ellipse j
function edgeToward(i, j) {
  const [cx, cy] = ellipseCenters[i];
  const [rx, ry] = ellipseRadii[i];
  const dx = ellipseCenters[j][0] - cx;
  const dy = ellipseCenters[j][1] - cy;
  const t = 1 / Math.sqrt((dx / rx) * (dx / rx) + (dy / ry) * (dy / ry));
  return [cx + t * dx, cy + t * dy];
}

const linkSeries = linkedPairs.map(([a, b]) => ({
  type: 'line',
  data: [edgeToward(a, b), edgeToward(b, a)],
  showSymbol: false,
  symbol: 'none',
  lineStyle: { color: '#555555', width: 1 },
  silent: true,
  z: 1
}));

const chart = echarts.init(document.getElementById('chart'), null, { renderer: 'canvas' });

chart.setOption({
  animation: false,
  backgroundColor: '#ffffff',
  textStyle: { fontFamily: FONT },
  grid: {
    left: 123, top: 103, right: 1, bottom: 144,
    show: true, borderColor: AXIS, borderWidth: 1, backgroundColor: 'transparent'
  },
  xAxis: {
    type: 'value',
    min: -80, max: 69.94,
    name: 'Component 1',
    nameLocation: 'middle',
    nameGap: 90,
    nameTextStyle: { color: AXIS, fontSize: 19, fontFamily: FONT },
    axisLine: { show: false, onZero: false },
    splitLine: { show: false },
    axisTick: {
      show: true, inside: false, length: 9,
      customValues: xTicks,
      lineStyle: { color: AXIS, width: 1 }
    },
    axisLabel: {
      show: true, margin: 36,
      customValues: xTicks,
      color: AXIS, fontSize: 19, fontFamily: FONT
    }
  },
  yAxis: {
    type: 'value',
    min: -76.03, max: 63.13,
    name: 'Component 2',
    nameLocation: 'middle',
    nameRotate: 90,
    nameGap: 92,
    nameTextStyle: { color: AXIS, fontSize: 19, fontFamily: FONT },
    axisLine: { show: false, onZero: false },
    splitLine: { show: false },
    axisTick: {
      show: true, inside: false, length: 9,
      customValues: yTicks,
      lineStyle: { color: AXIS, width: 1 }
    },
    axisLabel: {
      show: true, margin: 28, rotate: 90,
      customValues: yTicks,
      color: AXIS, fontSize: 19, fontFamily: FONT
    }
  },
  graphic: [
    {
      type: 'text',
      style: {
        text: 'CLUSPLOT', x: 689, y: 31, align: 'center', verticalAlign: 'middle',
        fill: '#000000', font: '35px ' + FONT
      }
    },
    {
      type: 'text',
      style: {
        text: 'These two components explain 100 % of the point variability.',
        x: 123, y: 937, align: 'left', verticalAlign: 'middle',
        fill: '#000000', font: '19px ' + FONT
      }
    }
  ],
  series: [
    {
      type: 'custom',
      coordinateSystem: 'cartesian2d',
      data: ellipseCenters,
      silent: true,
      z: 1,
      renderItem: function (params, api) {
        const i = params.dataIndex;
        const [cx, cy] = ellipseCenters[i];
        const [rx, ry] = ellipseRadii[i];
        const pts = [];
        for (let k = 0; k <= 360; k++) {
          const t = k * Math.PI / 180;
          pts.push(api.coord([cx + rx * Math.cos(t), cy + ry * Math.sin(t)]));
        }
        return {
          type: 'polyline',
          shape: { points: pts },
          style: { stroke: '#555555', lineWidth: 1, fill: 'none' }
        };
      }
    },
    ...linkSeries,
    {
      name: 'cluster 1',
      type: 'scatter',
      data: clusterTriangles,
      symbol: 'triangle',
      symbolSize: [12, 11],
      itemStyle: { color: 'rgba(0,0,0,0)', borderColor: INK, borderWidth: 1 },
      z: 2
    },
    {
      name: 'cluster 2',
      type: 'scatter',
      data: clusterCircles,
      symbol: 'circle',
      symbolSize: 11.5,
      itemStyle: { color: 'rgba(0,0,0,0)', borderColor: INK, borderWidth: 1 },
      z: 2
    },
    {
      name: 'cluster 3',
      type: 'scatter',
      data: clusterDots,
      symbol: 'circle',
      symbolSize: 8,
      itemStyle: { color: '#626262' },
      z: 2
    }
  ]
});
</script>
</body>
</html>
